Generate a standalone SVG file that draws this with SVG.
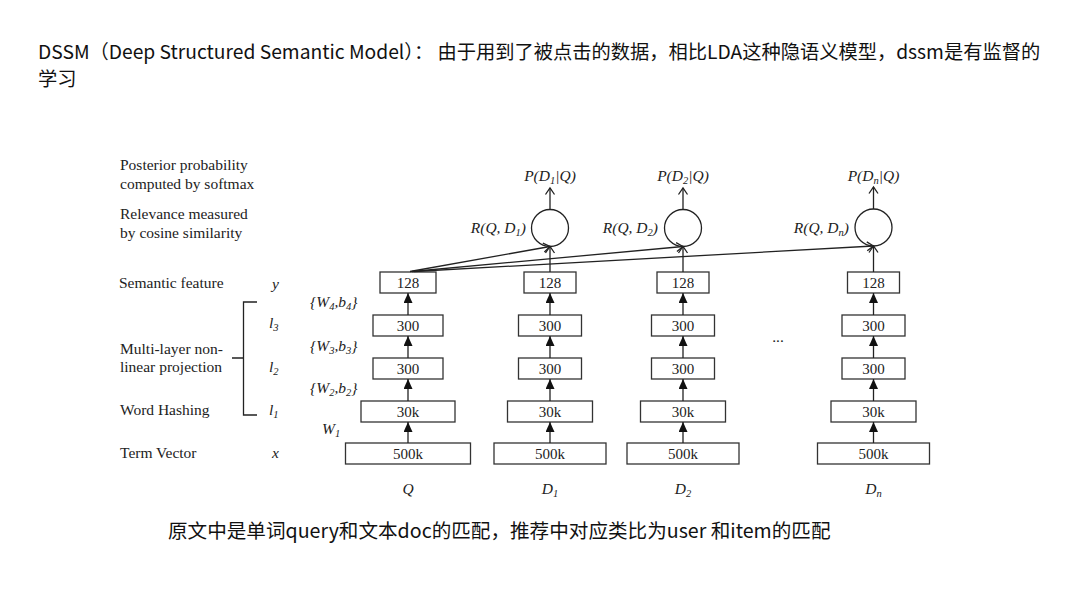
<svg xmlns="http://www.w3.org/2000/svg" width="1080" height="608" viewBox="0 0 1080 608">
<defs>
<style>
.cn{font-family:"Noto Sans CJK SC","Noto Sans",sans-serif;font-size:19.25px;fill:#111}
.ft{font-family:"Noto Sans CJK SC","Noto Sans",sans-serif;font-size:19.6px;fill:#111}
.lb{font-family:"Liberation Serif","Times New Roman",serif;font-size:15.5px;fill:#222}
.it{font-family:"Liberation Serif","Times New Roman",serif;font-size:15.5px;font-style:italic;fill:#222}
.bx{fill:#fff;stroke:#333;stroke-width:1.3}
.bt{font-family:"Liberation Serif","Times New Roman",serif;font-size:15px;fill:#222;text-anchor:middle}
.ln{fill:none;stroke:#222;stroke-width:1.3}
.sub{font-size:10.5px}
</style>
<marker id="fa" viewBox="0 0 10 9" refX="10" refY="4.5" markerWidth="10" markerHeight="9" orient="auto" markerUnits="userSpaceOnUse"><path d="M0,0 L10,4.5 L0,9 z" fill="#111"/></marker>
<marker id="oa" viewBox="0 0 7 10" refX="6.5" refY="5" markerWidth="7" markerHeight="10" orient="auto" markerUnits="userSpaceOnUse" overflow="visible"><path d="M0,0.5 L6.5,5 L0,9.5" fill="none" stroke="#222" stroke-width="1.3"/></marker>
</defs>
<rect width="1080" height="608" fill="#fff"/>

<g id="title">
<text class="cn" x="38" y="59">DSSM（Deep Structured Semantic Model）： 由于用到了被点击的数据，相比LDA这种隐语义模型，dssm是有监督的</text>
<text class="cn" x="38" y="86">学习</text>
</g>

<g id="left-labels">
<text class="lb" x="120" y="170">Posterior probability</text>
<text class="lb" x="120" y="189">computed by softmax</text>
<text class="lb" x="120" y="219">Relevance measured</text>
<text class="lb" x="120" y="238">by cosine similarity</text>
<text class="lb" x="119" y="288">Semantic feature</text>
<text class="lb" x="120" y="354">Multi-layer non-</text>
<text class="lb" x="120" y="372">linear projection</text>
<text class="lb" x="120" y="415">Word Hashing</text>
<text class="lb" x="120" y="458">Term Vector</text>
<path class="ln" d="M257,302 H243.5 V415 H257 M232,358 H243.5"/>
<text class="it" x="272" y="289">y</text>
<text class="it" x="269" y="328">l<tspan class="sub" dy="3">3</tspan></text>
<text class="it" x="269" y="372">l<tspan class="sub" dy="3">2</tspan></text>
<text class="it" x="269" y="415">l<tspan class="sub" dy="3">1</tspan></text>
<text class="it" x="272" y="458">x</text>
<text class="it" x="310" y="307">{W<tspan class="sub" dy="3">4</tspan><tspan dy="-3">,b</tspan><tspan class="sub" dy="3">4</tspan><tspan dy="-3">}</tspan></text>
<text class="it" x="310" y="351">{W<tspan class="sub" dy="3">3</tspan><tspan dy="-3">,b</tspan><tspan class="sub" dy="3">3</tspan><tspan dy="-3">}</tspan></text>
<text class="it" x="310" y="393">{W<tspan class="sub" dy="3">2</tspan><tspan dy="-3">,b</tspan><tspan class="sub" dy="3">2</tspan><tspan dy="-3">}</tspan></text>
<text class="it" x="322" y="434">W<tspan class="sub" dy="3">1</tspan></text>
</g>

<g id="col-Q">
<rect class="bx" x="380" y="272" width="56" height="21"/><text class="bt" x="408" y="287.5">128</text>
<rect class="bx" x="373" y="315" width="70" height="21"/><text class="bt" x="408" y="330.5">300</text>
<rect class="bx" x="373" y="358" width="70" height="21"/><text class="bt" x="408" y="373.5">300</text>
<rect class="bx" x="361" y="401" width="94" height="21"/><text class="bt" x="408" y="416.5">30k</text>
<rect class="bx" x="345.5" y="443" width="125" height="21"/><text class="bt" x="408" y="458.5">500k</text>
<text class="it" x="408" y="494" text-anchor="middle">Q</text>
</g>

<g id="col-D1">
<rect class="bx" x="524" y="272" width="52" height="21"/><text class="bt" x="550" y="287.5">128</text>
<rect class="bx" x="518.5" y="315" width="63" height="21"/><text class="bt" x="550" y="330.5">300</text>
<rect class="bx" x="518.5" y="358" width="63" height="21"/><text class="bt" x="550" y="373.5">300</text>
<rect class="bx" x="507.5" y="401" width="85" height="21"/><text class="bt" x="550" y="416.5">30k</text>
<rect class="bx" x="494" y="443" width="112" height="21"/><text class="bt" x="550" y="458.5">500k</text>
<text class="it" x="550" y="494" text-anchor="middle">D<tspan class="sub" dy="3">1</tspan></text>
<circle class="ln" cx="550" cy="228" r="18.5"/>
<text class="it" x="526" y="233" text-anchor="end">R(Q, D<tspan class="sub" dy="3">1</tspan><tspan dy="-3">)</tspan></text>
<text class="it" x="550" y="181" text-anchor="middle">P(D<tspan class="sub" dy="3">1</tspan><tspan dy="-3">|Q)</tspan></text>
</g>

<g id="col-D2">
<rect class="bx" x="657" y="272" width="52" height="21"/><text class="bt" x="683" y="287.5">128</text>
<rect class="bx" x="651.5" y="315" width="63" height="21"/><text class="bt" x="683" y="330.5">300</text>
<rect class="bx" x="651.5" y="358" width="63" height="21"/><text class="bt" x="683" y="373.5">300</text>
<rect class="bx" x="640.5" y="401" width="85" height="21"/><text class="bt" x="683" y="416.5">30k</text>
<rect class="bx" x="627" y="443" width="112" height="21"/><text class="bt" x="683" y="458.5">500k</text>
<text class="it" x="683" y="494" text-anchor="middle">D<tspan class="sub" dy="3">2</tspan></text>
<circle class="ln" cx="683" cy="228" r="18.5"/>
<text class="it" x="658" y="233" text-anchor="end">R(Q, D<tspan class="sub" dy="3">2</tspan><tspan dy="-3">)</tspan></text>
<text class="it" x="683" y="181" text-anchor="middle">P(D<tspan class="sub" dy="3">2</tspan><tspan dy="-3">|Q)</tspan></text>
</g>

<g id="ellipsis">
<text class="lb" x="778" y="342" text-anchor="middle">...</text>
</g>

<g id="col-Dn">
<rect class="bx" x="847.5" y="272" width="52" height="21"/><text class="bt" x="873.5" y="287.5">128</text>
<rect class="bx" x="842" y="315" width="63" height="21"/><text class="bt" x="873.5" y="330.5">300</text>
<rect class="bx" x="842" y="358" width="63" height="21"/><text class="bt" x="873.5" y="373.5">300</text>
<rect class="bx" x="831" y="401" width="85" height="21"/><text class="bt" x="873.5" y="416.5">30k</text>
<rect class="bx" x="817.5" y="443" width="112" height="21"/><text class="bt" x="873.5" y="458.5">500k</text>
<text class="it" x="873.5" y="494" text-anchor="middle">D<tspan class="sub" dy="3">n</tspan></text>
<circle class="ln" cx="873.5" cy="227.5" r="18.5"/>
<text class="it" x="849" y="233" text-anchor="end">R(Q, D<tspan class="sub" dy="3">n</tspan><tspan dy="-3">)</tspan></text>
<text class="it" x="873.5" y="181" text-anchor="middle">P(D<tspan class="sub" dy="3">n</tspan><tspan dy="-3">|Q)</tspan></text>
</g>

<g id="connectors">
<g marker-end="url(#fa)">
<path class="ln" d="M408,443 V422"/><path class="ln" d="M408,401 V379"/><path class="ln" d="M408,358 V336"/><path class="ln" d="M408,315 V293"/>
<path class="ln" d="M550,443 V422"/><path class="ln" d="M550,401 V379"/><path class="ln" d="M550,358 V336"/><path class="ln" d="M550,315 V293"/>
<path class="ln" d="M683,443 V422"/><path class="ln" d="M683,401 V379"/><path class="ln" d="M683,358 V336"/><path class="ln" d="M683,315 V293"/>
<path class="ln" d="M873.5,443 V422"/><path class="ln" d="M873.5,401 V379"/><path class="ln" d="M873.5,358 V336"/><path class="ln" d="M873.5,315 V293"/>
</g>
<g marker-end="url(#oa)">
<path class="ln" d="M550,272 V246.5"/><path class="ln" d="M683,272 V246.5"/><path class="ln" d="M873.5,272 V246"/>
<path class="ln" d="M550,209.5 V188"/><path class="ln" d="M683,209.5 V188"/><path class="ln" d="M873.5,209 V187"/>
<path class="ln" d="M410,271.5 L550,246.5"/><path class="ln" d="M412,271.5 L683,246.5"/><path class="ln" d="M414,271.5 L873.5,246"/>
</g>
</g>

<g id="footer">
<text class="ft" x="168" y="538">原文中是单词query和文本doc的匹配，推荐中对应类比为user 和item的匹配</text>
</g>
</svg>
